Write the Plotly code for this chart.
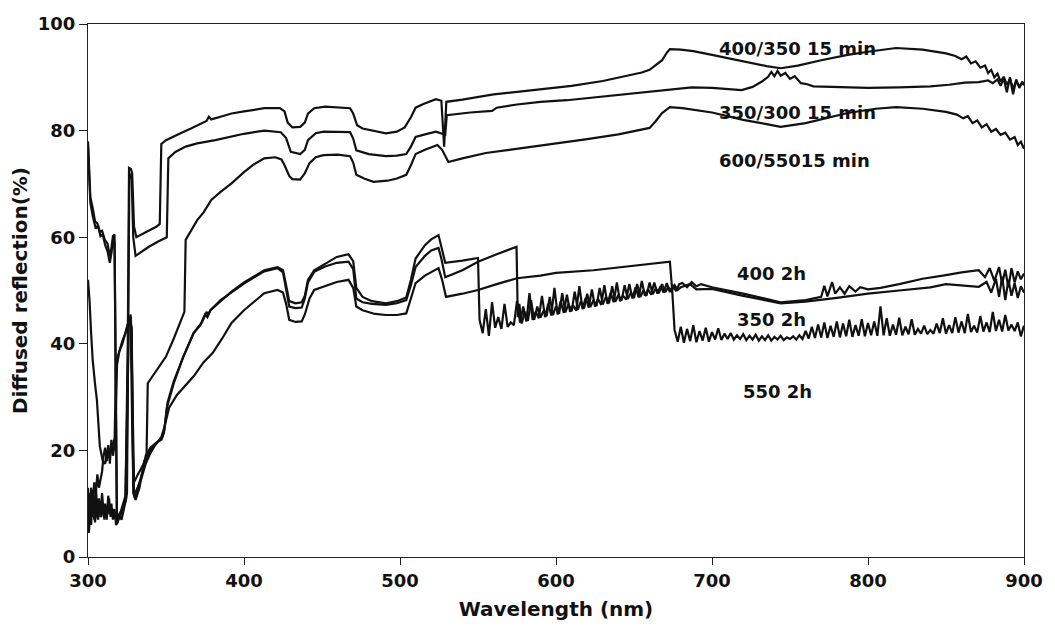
import plotly.graph_objects as go

# Diffuse reflectance spectra (wavelength nm, reflectance %)
s_400_350_15min = [
    (300, 78), (300.5, 74), (301.5, 67.5), (303, 65.5), (304.5, 63), (306, 62.6), (307.5, 61),
    (309, 61.2), (310.8, 59.5), (312.5, 58.8), (314, 56.5), (315, 58), (316, 60.2), (317, 60.5),
    (317.8, 30), (318.5, 7), (320, 8), (322, 9), (324, 10.5), (325.5, 40), (326.3, 73), (327.5, 72.8),
    (328.3, 72), (329.5, 62), (331, 60), (335, 60.6), (340, 61.3), (344, 62), (346, 62.5), (347, 77.5),
    (350, 78.2), (354, 78.8), (360, 79.6), (366, 80.4), (372, 81.3), (376, 81.8), (377.5, 82.6),
    (379, 82.1), (385, 82.6), (392, 83.2), (400, 83.6), (413, 84.2), (423, 84.2), (426, 83.6),
    (428, 81.5), (431, 80.6), (436, 80.7), (439, 81.5), (441, 83.2), (445, 84.2), (452, 84.5),
    (460, 84.4), (468, 84.2), (470, 83.2), (472.5, 81), (476, 80.4), (483, 80.0), (491, 79.5),
    (498, 79.8), (503, 80.6), (507, 82.5), (510, 84.3), (515, 85.0), (520, 85.5), (523, 85.9),
    (526.5, 85.6), (528.3, 77), (529.7, 85.4), (540, 85.8), (560, 86.8), (586, 87.6), (610, 88.4),
    (630, 89.3), (645, 90.2), (655, 90.9), (660, 91.4), (664, 92.3), (668, 93.2), (671, 94.6),
    (673, 95.3), (680, 95.2), (688, 94.9), (700, 94.2), (712, 93.5), (725, 92.6), (735, 92.1),
    (744, 91.7), (755, 92.2), (770, 93.2), (787, 94.2), (800, 94.8), (818, 95.5), (835, 95.2),
    (850, 94.5), (856, 94.0), (860, 93.4), (863, 93.9), (866, 92.6), (869, 93.0), (872, 91.8),
    (875, 92.2), (877, 90.8), (879, 91.4), (881, 90.0), (883, 90.7), (885, 89.2), (887, 90.1),
    (889, 88.6), (891, 89.7), (893, 87.9), (895, 89.2), (897, 88.3), (899, 89.0), (900, 88.6),
]

s_350_300_15min = [
    (300, 77), (300.6, 72), (301.5, 66.5), (303, 64), (305, 61.6), (306.5, 62.2), (308, 60.2),
    (309.5, 60.5), (311, 58.5), (312.5, 57.4), (314, 55.2), (315, 57), (316, 59), (317, 59.3),
    (317.9, 25), (318.6, 6.2), (320, 7.5), (322, 9.5), (324, 11.5), (325.6, 35), (326.5, 72),
    (328, 71), (329, 60), (330.5, 56.5), (334, 57.2), (339, 58.2), (345, 59.2), (350.5, 60),
    (351.5, 74.8), (356, 76), (362.6, 77), (370, 77.6), (381.6, 78.2), (390, 78.8), (400, 79.4),
    (413, 80), (423.6, 79.7), (427, 78.6), (430, 76), (436, 75.6), (439, 76.4), (441, 78.2),
    (446, 79.5), (451, 79.8), (468, 79.7), (470, 78.5), (472, 76.3), (480, 75.6), (491, 75.2),
    (498, 75.3), (504, 75.6), (507, 77), (510, 78.8), (516, 79.3), (523, 79.8), (527, 79.4),
    (529, 79.2), (530, 82.9), (545, 83.4), (559, 83.7), (562, 84.3), (575, 84.9), (590, 85.4),
    (607, 85.7), (630, 86.4), (660, 87.3), (687, 88.1), (700, 88.0), (719, 87.6), (726, 88.2),
    (732, 89.2), (736, 90.1), (738, 91.0), (740, 90.2), (742, 91.2), (744, 90.3), (747, 90.8),
    (750, 89.7), (753, 90.2), (757, 88.9), (761, 88.7), (765, 88.3), (780, 88.2), (800, 88.0),
    (820, 88.1), (840, 88.3), (852, 88.6), (862, 89.0), (871, 89.1), (877, 89.4), (880, 88.9),
    (883, 89.6), (885, 88.4), (887, 89.8), (889, 87.2), (891, 90.0), (893, 86.8), (895, 89.6),
    (897, 88.0), (899, 89.2), (900, 88.5),
]

s_600_550_15min = [
    (300, 52), (301, 48), (302, 42), (303, 37), (304.5, 32.5), (305.7, 29.5), (307.6, 20.7),
    (309.5, 18), (311, 17.5), (312.7, 20.2), (314, 19.5), (316, 21.5), (317.5, 22.5), (318.6, 36),
    (320, 38.5), (322, 40.5), (324, 42), (326, 44.2), (327.5, 45), (328.5, 30), (329.5, 14),
    (332, 15.5), (335, 17), (337.5, 18.5), (338.3, 32.6), (342, 34.2), (346, 35.8), (350, 37.6),
    (355, 41), (360, 44.5), (361.8, 46), (362.6, 59.5), (366, 61.3), (370, 63.2), (374, 64.6),
    (379, 67), (385, 68.5), (392, 70.1), (400, 72.2), (406, 73.6), (413, 74.8), (420, 75),
    (424, 74.6), (426, 73.5), (429, 71.5), (431, 70.9), (436, 70.8), (439, 72), (442, 73.9),
    (446, 75), (451, 75.4), (460, 75.5), (468, 75.2), (470, 74), (472, 71.7), (477, 71),
    (483, 70.4), (492, 70.6), (498, 71), (504, 71.7), (507, 73.5), (510, 75.6), (516, 76.4),
    (524, 77.3), (527, 76.4), (531, 74.1), (540, 74.8), (555, 75.8), (570, 76.4), (586, 77),
    (600, 77.6), (620, 78.4), (640, 79.3), (655, 80.2), (660, 80.5), (664, 81.8), (668, 83.3),
    (673, 84.4), (681, 84.2), (700, 83.4), (720, 82), (735, 81.2), (744, 80.7), (760, 81.4),
    (787, 83.3), (805, 84.1), (818, 84.4), (835, 84.1), (850, 83.5), (857, 83.0), (861, 82.3),
    (864, 82.7), (867, 81.4), (870, 81.9), (873, 80.6), (876, 81.2), (879, 79.8), (882, 80.3),
    (885, 79.2), (888, 79.6), (891, 78.3), (894, 78.8), (896, 77.3), (898, 77.9), (900, 76.6),
]

s_400_2h = [
    (300, 13), (300.7, 5), (301.5, 12), (302.5, 7.5), (303.5, 11), (304.5, 6.5), (305.5, 9.5),
    (306.5, 7), (307.5, 10.5), (308.5, 7.5), (309.5, 10), (310.5, 7), (311.5, 9.5), (312.5, 8),
    (313.5, 11), (314.5, 7.5), (315.5, 9), (316.5, 8.5), (317.5, 8), (318.5, 7), (320, 8),
    (321.5, 7), (323, 9), (324.5, 11), (326, 43), (327, 44.5), (328, 43), (329, 14), (330, 11),
    (332, 13), (335, 16), (337, 19), (340, 20.5), (344, 21.5), (347, 22), (348.7, 23.3),
    (350.6, 28.1), (355, 32.6), (361, 37.5), (367.7, 42), (373, 44), (376, 46), (377, 45.5),
    (378.5, 46.3), (385, 48), (392, 49.8), (400, 51.5), (413, 53.8), (421.5, 54.4), (425, 53.8),
    (427, 51), (429, 48), (433, 47.6), (437, 47.8), (439, 49), (441, 52), (445, 53.8), (452, 55),
    (459.5, 56.3), (467, 56.8), (470, 55.5), (472, 50.5), (476, 48.8), (482, 48), (491, 47.6),
    (498, 48), (504, 48.7), (507, 52), (510, 56), (516, 58.5), (520, 59.6), (524.7, 60.4),
    (526.5, 58), (529, 55.2), (540, 55.6), (550, 56.1),
    (551, 44.5), (553, 42.0), (555, 46.5), (557, 41.5), (559, 47.8), (561, 43.0), (563, 45.0),
    (565, 42.8), (567, 47.5), (569, 43.2), (571, 44.0), (573, 43.5), (575, 48.0), (577, 44.0),
    (579, 47.0), (581, 44.2), (583, 49.5), (585, 44.5), (587, 46.0), (589, 44.8), (591, 49.0),
    (593, 45.0), (595, 47.5), (597, 45.3), (599, 50.5), (601, 45.5), (603, 48.0), (605, 45.8),
    (607, 49.2), (609, 46.0), (611, 47.2), (613, 46.2), (615, 50.8), (617, 46.5), (619, 48.6),
    (621, 46.8), (623, 50.2), (625, 47.0), (627, 48.4), (629, 47.3), (631, 51.0), (633, 47.5),
    (635, 49.5), (637, 47.8), (639, 51.5), (641, 48.0), (643, 49.0), (645, 48.3), (647, 51.2),
    (649, 48.5), (651, 50.6), (653, 48.7), (655, 51.8), (657, 49.0), (659, 50.2), (661, 49.2),
    (663, 51.5), (665, 49.4), (667, 50.8), (669, 49.6), (671, 51.4), (673, 49.7), (675, 50.8),
    (677, 49.9), (679, 51.2),
    (681, 51.4), (684, 50.6), (687, 51.6), (690, 50.8), (693, 51.2), (700, 50.6), (720, 49.4),
    (744, 47.8), (760, 48.2), (770, 48.8), (772, 50.9), (774, 48.9), (777, 51.6), (779, 49.4),
    (782, 50.6), (785, 49.4), (788, 50.8), (792, 49.8), (795, 50.6), (800, 50.2), (808, 50.5),
    (820, 51.2), (835, 52.2), (850, 52.9), (860, 53.4), (871, 53.8), (875, 52.5), (878, 54.2),
    (881, 51.8), (884, 54.4), (886, 51.2), (888, 53.9), (890, 50.6), (892, 54.2), (894, 51.5),
    (896, 53.6), (898, 52.1), (900, 53.2),
]

s_550_2h = [
    (300, 8), (300.5, 4.5), (301.3, 10), (302, 6), (303, 12.5), (304, 7), (305, 13.5), (306, 8),
    (307, 11), (308, 7.5), (309, 12), (310, 8.5), (311, 10), (312, 7), (313, 11.5), (314, 8),
    (315, 10), (316, 7), (317, 9), (318, 6), (319.5, 7), (321, 8), (322.5, 9.5), (324, 10.5),
    (325, 12), (325.8, 44), (327, 45), (328, 42), (329, 12), (330.5, 10.7), (333, 13), (336, 18),
    (340, 20), (344, 21.4), (347.5, 22.3), (349, 24), (351, 29), (355, 33), (361, 37.5),
    (367.7, 42), (372, 43.5), (375, 45.5), (376.5, 45), (378.5, 46.3), (385, 48.2), (392, 49.6),
    (400, 51.3), (413, 53.6), (421.5, 54.2), (425, 53.4), (427, 50.5), (429, 47), (433, 46.7),
    (437, 46.8), (439, 48.5), (441, 51.5), (445, 53.5), (452, 54.5), (459.5, 55.2), (467, 55.4),
    (470, 54), (472, 48.5), (476, 47.8), (482, 47.5), (491, 47.3), (498, 47.6), (504, 48.2),
    (507, 51), (510, 54.4), (516, 56.5), (520, 57.5), (524.7, 58), (526.5, 56), (529, 52.5),
    (540, 53.8), (550, 55.4), (562, 56.8), (574.7, 58.2),
    (575.5, 45.0), (576.5, 47.5), (578, 43.8), (580, 46.0), (582, 44.3), (584, 48.2), (586, 44.5),
    (588, 47.0), (590, 44.9), (592, 46.2), (594, 45.2), (596, 48.8), (598, 45.4), (600, 47.0),
    (602, 45.6), (604, 49.5), (606, 45.9), (608, 47.5), (610, 46.1), (612, 49.8), (614, 46.4),
    (616, 48.0), (618, 46.6), (620, 49.4), (622, 46.9), (624, 48.2), (626, 47.1), (628, 50.5),
    (630, 47.4), (632, 48.8), (634, 47.6), (636, 50.8), (638, 47.9), (640, 49.2), (642, 48.1),
    (644, 51.0), (646, 48.4), (648, 49.6), (650, 48.6), (652, 51.2), (654, 48.8), (656, 50.0),
    (658, 49.0), (660, 51.5), (662, 49.3), (664, 50.4), (666, 49.5), (668, 51.2), (670, 49.7),
    (672, 50.6), (674, 49.9), (676, 51.0), (678, 50.1), (680, 50.6),
    (686, 51.2), (690, 50.2), (700, 50.3), (720, 49.0), (744, 47.6), (760, 47.9), (780, 48.6),
    (800, 49.4), (820, 50.0), (840, 50.6), (850, 51.2), (860, 51.0), (871, 50.7), (876, 51.6),
    (879, 49.6), (882, 52.2), (884, 48.8), (886, 52.6), (888, 48.2), (890, 52.0), (892, 49.0),
    (894, 51.4), (896, 48.6), (898, 50.8), (900, 49.6),
]

s_350_2h = [
    (300, 12), (301, 8), (302, 13), (303, 9.5), (304, 14), (305, 12), (306, 15.5), (307, 13),
    (308, 14.5), (309, 16), (310, 19), (311, 20.5), (312, 18), (313, 21), (314, 17.5), (315, 22),
    (316, 19), (317, 21), (318, 36.5), (320, 38.5), (322, 40), (324, 42), (326, 44),
    (327.3, 45.5), (328.3, 25), (329.5, 12), (331, 12.5), (334, 14.5), (337, 17.5), (340, 19.5),
    (343, 21), (347, 22.5), (349, 24.4), (352, 28), (357, 30.4), (362, 32), (368, 34),
    (374, 36.5), (380, 38.3), (386, 41), (392, 43.9), (400, 46.3), (406, 47.8), (413, 49.5),
    (421.5, 50.1), (425, 49.6), (427, 47.5), (429, 44.5), (433, 44.1), (437, 44.2), (439, 45.5),
    (442, 48.5), (445, 50.1), (452, 50.8), (459.5, 51.6), (467, 52.0), (470, 50.5), (472, 47),
    (476, 46.3), (484, 45.6), (491, 45.4), (498, 45.4), (504, 45.7), (507, 48.5), (510, 51.4),
    (516, 52.8), (524.7, 54.2), (527, 52), (529.5, 48.8), (540, 49.4), (550, 50.1), (562, 51.2),
    (575, 52.3), (590, 52.8), (600, 53.3), (624, 53.8), (650, 54.6), (673, 55.4), (674.5, 50),
    (676, 42.6), (678, 40.4), (680, 43.2), (682, 40.2), (684, 42.8), (686, 40.5), (688, 43.5),
    (690, 40.3), (692, 42.4), (694, 40.6), (696, 43.0), (698, 40.4), (700, 42.2), (702, 40.8),
    (704, 42.9), (706, 40.7), (708, 41.9), (710, 40.9), (712, 42.0), (714, 40.8), (716, 41.6),
    (718, 40.9), (720, 41.8), (722, 40.7), (724, 41.5), (726, 40.8), (728, 41.7), (730, 40.6),
    (732, 41.4), (734, 40.7), (736, 41.6), (738, 40.6), (740, 41.3), (742, 40.8), (744, 41.5),
    (746, 40.7), (748, 41.2), (750, 40.9), (752, 41.4), (754, 40.8), (756, 41.6), (758, 40.9),
    (760, 42.4), (762, 41.0), (764, 43.2), (766, 41.1), (768, 43.6), (770, 41.2), (772, 44.0),
    (774, 41.1), (776, 43.4), (778, 41.3), (780, 44.2), (782, 41.2), (784, 43.8), (786, 41.4),
    (788, 44.5), (790, 41.3), (792, 43.5), (794, 41.5), (796, 44.6), (798, 41.4), (800, 43.9),
    (802, 41.6), (804, 44.2), (806, 41.5), (808, 47.0), (810, 41.6), (812, 44.8), (814, 41.5),
    (816, 43.6), (818, 41.7), (820, 44.9), (822, 41.6), (824, 43.2), (826, 41.8), (828, 44.6),
    (830, 41.7), (832, 42.8), (834, 41.9), (836, 43.4), (838, 41.8), (840, 42.6), (842, 41.9),
    (844, 43.8), (846, 42.0), (848, 44.8), (850, 41.9), (852, 43.5), (854, 42.0), (856, 45.0),
    (858, 42.1), (860, 44.2), (862, 42.0), (864, 45.6), (866, 42.2), (868, 43.4), (870, 42.1),
    (872, 45.2), (874, 42.3), (876, 44.0), (878, 42.2), (880, 46.0), (882, 42.4), (884, 44.5),
    (886, 42.3), (888, 45.4), (890, 42.5), (892, 43.6), (894, 42.4), (896, 44.0), (898, 41.4),
    (900, 43.4),
]

series = [s_400_350_15min, s_350_300_15min, s_600_550_15min, s_400_2h, s_550_2h, s_350_2h]

# Curve labels: (text, wavelength, reflectance)
label_text = ["400/350 15 min", "350/300 15 min", "600/55015 min", "400 2h", "350 2h", "550 2h"]
label_wl = [703, 703, 703, 714.5, 714.5, 718.5]
label_r = [95.4, 83.4, 74.3, 53.1, 44.5, 31.1]

FONT = "DejaVu Sans"
INK = "#111111"

fig = go.Figure()
for pts in series:
    wl, refl = zip(*pts)
    fig.add_trace(go.Scatter(
        x=list(wl), y=list(refl), mode="lines",
        line=dict(color=INK, width=2.2),
        showlegend=False, hoverinfo="skip",
    ))

for txt, xw, yr in zip(label_text, label_wl, label_r):
    fig.add_annotation(
        x=xw, y=yr, text=txt, showarrow=False, xanchor="left", yanchor="middle",
        font=dict(family=FONT, size=18, color=INK, weight="bold"),
    )

fig.update_layout(
    width=1055, height=636,
    margin=dict(l=88, r=19, t=24, b=79),
    paper_bgcolor="white", plot_bgcolor="white",
    font=dict(family=FONT, size=18, color=INK, weight="bold"),
)
fig.update_xaxes(
    range=[300, 900], tickvals=[300, 400, 500, 600, 700, 800, 900],
    showgrid=False, zeroline=False,
    showline=True, linecolor="#222222", linewidth=1.3, mirror=True,
    ticks="outside", ticklen=7, tickcolor="#222222", tickwidth=1.3,
    tickfont=dict(family=FONT, size=18, weight="bold", color=INK),
    title=dict(text="Wavelength (nm)", standoff=12,
               font=dict(family=FONT, size=20, weight="bold", color=INK)),
)
fig.update_yaxes(
    range=[0, 100], tickvals=[0, 20, 40, 60, 80, 100],
    showgrid=False, zeroline=False,
    showline=True, linecolor="#222222", linewidth=1.3, mirror=True,
    ticks="outside", ticklen=8, tickcolor="#222222", tickwidth=1.3,
    tickfont=dict(family=FONT, size=18, weight="bold", color=INK),
    title=dict(text="Diffused reflection(%)", standoff=4,
               font=dict(family=FONT, size=20, weight="bold", color=INK)),
)

fig.write_html("out.html")
